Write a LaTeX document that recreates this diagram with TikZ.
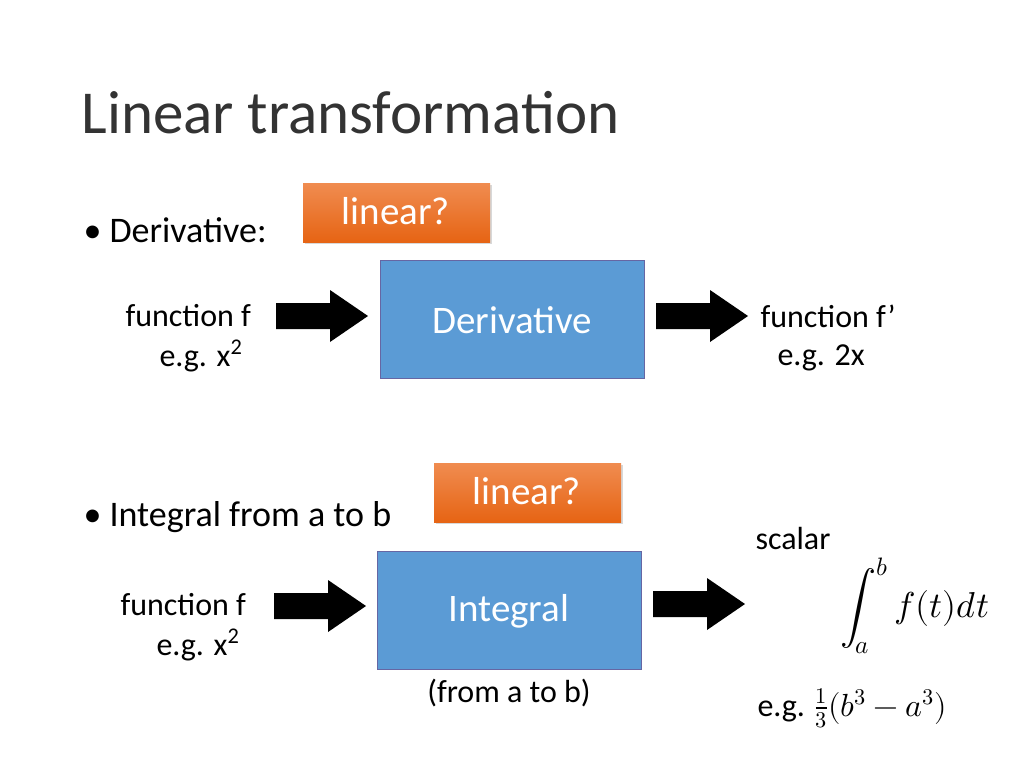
\documentclass[tikz,border=0pt]{standalone}
\usepackage{unicode-math}
\setmainfont{Carlito}
\setmathfont{Latin Modern Math}
\usetikzlibrary{shadows}
\begin{document}
\begin{tikzpicture}[x=1pt,y=-1pt,
  blk/.style={draw=blue!40!black!60,fill={rgb,255:red,91;green,155;blue,213},line width=1pt},
  lin/.style={top color={rgb,255:red,240;green,140;blue,80},bottom color={rgb,255:red,230;green,100;blue,20},drop shadow={opacity=0.3}},
  wt/.style={text=white,font=\fontsize{39}{46}\selectfont},
  lbl/.style={font=\fontsize{32}{38}\selectfont,align=center},
  bul/.style={font=\fontsize{36}{42}\selectfont,anchor=west}]
\useasboundingbox (0,0) rectangle (1024,768);
\fill[white] (0,0) rectangle (1024,768);
\newcommand{\barrow}[2]{\fill[black] (#1,#2-13)--(#1+54,#2-13)--(#1+54,#2-26)--(#1+92,#2)--(#1+54,#2+26)--(#1+54,#2+13)--(#1,#2+13)--cycle;}
\node[anchor=west,font=\fontsize{61}{70}\selectfont,text=black!80] (t) at (78,113) {Linear transformation};
\node[bul] (b1) at (80,230) {\textbullet\ Derivative:};
\node[bul] (b2) at (80,517) {\textbullet\ Integral from a to b};
\path[lin] (303,183) rectangle (490,242);
\node[wt] (l1) at (396,211) {linear?};
\path[lin] (434,463) rectangle (621,522);
\node[wt] (l2) at (527,491) {linear?};
\draw[blk] (380,260) rectangle (644,378);
\node[wt] (d) at (512,320) {Derivative};
\draw[blk] (377,551) rectangle (641,669);
\node[wt] (i) at (509,611) {Integral};
\barrow{276}{316}
\barrow{656}{316}
\barrow{274}{606}
\barrow{653}{604}
\node[lbl,anchor=west] (f1) at (122,316) {function f};
\node[lbl,anchor=west] (e1) at (156,356) {e.g. x\textsuperscript{2}};
\node[lbl,anchor=west] (f2) at (757,316) {function f’};
\node[lbl,anchor=west] (e2) at (774,358) {e.g. 2x};
\node[lbl,anchor=west] (f3) at (117,605) {function f};
\node[lbl,anchor=west] (e3) at (153,645) {e.g. x\textsuperscript{2}};
\node[lbl] (fa) at (509,693) {(from a to b)};
\node[lbl,anchor=west] (sc) at (752,538) {scalar};
\node[font=\fontsize{36}{42}\selectfont] (int) at (915,606) {$\displaystyle\int_a^b f(t)dt$};
\node[lbl,anchor=west] (eg) at (754,708) {e.g. $\frac{1}{3}(b^3-a^3)$};
\end{tikzpicture}
\end{document}
